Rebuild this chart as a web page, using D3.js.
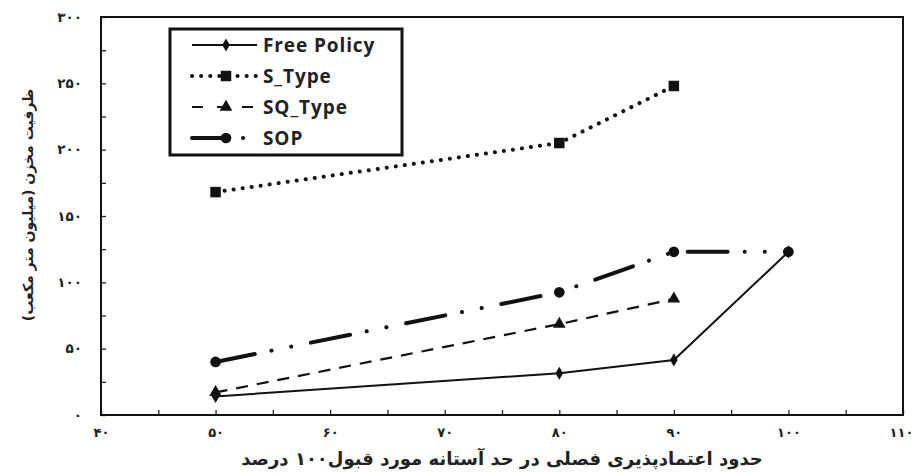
<!DOCTYPE html>
<html>
<head>
<meta charset="utf-8">
<script src="https://cdn.jsdelivr.net/npm/d3@7"></script>
<style>
  body { margin: 0; background: #fff; }
  svg { display: block; }
</style>
</head>
<body>
<svg id="chart"></svg>
<script>
const width = 914;
const height = 473;

// data
const xValues = [50, 80, 90, 100];
const freePolicy = [14, 31.5, 41.5, 123];
const sType = [168, 205, 248];
const sqType = [17, 68.5, 87.5];
const sop = [40, 92.5, 123, 123];

const xTicks = [40, 50, 60, 70, 80, 90, 100, 110];
const yTicks = [0, 50, 100, 150, 200, 250, 300];
const seriesNames = ["Free Policy", "S_Type", "SQ_Type", "SOP"];

const yTitle = "ظرفیت مخزن (میلیون متر مکعب)";
const xTitle = "حدود اعتمادپذیری فصلی در حد آستانه مورد قبول۱۰۰ درصد";

const margin = { top: 17, right: 11, bottom: 58, left: 101 };

const faDigits = "۰۱۲۳۴۵۶۷۸۹";
function toFa(n) {
    return String(n).replace(/\d/g, d => faDigits[+d]);
}

const svg = d3.select("#chart")
    .attr("width", width)
    .attr("height", height);

const x = d3.scaleLinear()
    .domain([40, 110])
    .range([margin.left, width - margin.right]);

const y = d3.scaleLinear()
    .domain([0, 300])
    .range([height - margin.bottom, margin.top]);

const tickFont = "DejaVu Sans";

// minor ticks (every 5 / 25) with no labels
svg.append("g")
    .attr("transform", `translate(0,${y(0)})`)
    .call(d3.axisBottom(x).tickValues(d3.range(40, 111, 5)).tickSize(-5).tickFormat(""))
    .call(g => g.select(".domain").remove())
    .call(g => g.selectAll("line").attr("stroke", "#222").attr("stroke-width", 1.3));

svg.append("g")
    .attr("transform", `translate(${x(40)},0)`)
    .call(d3.axisLeft(y).tickValues(d3.range(0, 301, 25)).tickSize(-5).tickFormat(""))
    .call(g => g.select(".domain").remove())
    .call(g => g.selectAll("line").attr("stroke", "#222").attr("stroke-width", 1.3));

// labelled axes
svg.append("g")
    .attr("transform", `translate(0,${y(0)})`)
    .call(d3.axisBottom(x).tickValues(xTicks).tickSize(0).tickPadding(13).tickFormat(toFa))
    .call(g => g.select(".domain").remove())
    .call(g => g.selectAll("text")
        .attr("font-family", tickFont)
        .attr("font-weight", "bold")
        .attr("font-size", 13)
        .attr("fill", "#222"))
    .call(g => g.selectAll(".tick:last-of-type text").attr("dx", -2));

svg.append("g")
    .attr("transform", `translate(${x(40)},0)`)
    .call(d3.axisLeft(y).tickValues(yTicks).tickSize(0).tickPadding(19).tickFormat(toFa))
    .call(g => g.select(".domain").remove())
    .call(g => g.selectAll("text")
        .attr("font-family", tickFont)
        .attr("font-weight", "bold")
        .attr("font-size", 13.5)
        .attr("fill", "#222"));

// plot frame
svg.append("rect")
    .attr("x", x(40))
    .attr("y", y(300))
    .attr("width", x(110) - x(40))
    .attr("height", y(0) - y(300))
    .attr("fill", "none")
    .attr("stroke", "#111")
    .attr("stroke-width", 2);

const styles = [
    { name: seriesNames[0], values: freePolicy, width: 2, dash: null, cap: "butt", symbol: d3.symbolDiamond, size: 50 },
    { name: seriesNames[1], values: sType, width: 4, dash: "0.1 9", cap: "round", symbol: d3.symbolSquare, size: 110 },
    { name: seriesNames[2], values: sqType, width: 2.2, dash: "12 9", cap: "butt", symbol: d3.symbolTriangle, size: 70 },
    { name: seriesNames[3], values: sop, width: 4, dash: "40 17 0.1 20 0.1 20", cap: "round", symbol: d3.symbolCircle, size: 90 }
];

const line = d3.line()
    .x((d, i) => x(xValues[i]))
    .y(d => y(d));

styles.forEach(s => {
    svg.append("path")
        .datum(s.values)
        .attr("d", line)
        .attr("fill", "none")
        .attr("stroke", "#111")
        .attr("stroke-width", s.width)
        .attr("stroke-linecap", s.cap)
        .attr("stroke-dasharray", s.dash);

    svg.selectAll(null)
        .data(s.values)
        .enter().append("path")
        .attr("transform", (d, i) => `translate(${x(xValues[i])},${y(d)})`)
        .attr("d", d3.symbol().type(s.symbol).size(s.size))
        .attr("fill", "#111");
});

// legend
const legend = svg.append("g");
legend.append("rect")
    .attr("x", 170)
    .attr("y", 29)
    .attr("width", 232)
    .attr("height", 126)
    .attr("fill", "#fff")
    .attr("stroke", "#111")
    .attr("stroke-width", 3);

const legendY = [45, 76, 107, 138];
styles.forEach((s, i) => {
    const g = legend.append("g").attr("transform", `translate(0,${legendY[i]})`);
    g.append("line")
        .attr("x1", 192).attr("x2", 257)
        .attr("stroke", "#111")
        .attr("stroke-width", s.width)
        .attr("stroke-linecap", s.cap)
        .attr("stroke-dasharray", i === 3 ? "33 18 0.1 20" : (i === 2 ? "11 14" : s.dash));
    g.append("path")
        .attr("transform", "translate(226,0)")
        .attr("d", d3.symbol().type(s.symbol).size(s.size))
        .attr("fill", "#111");
    g.append("text")
        .attr("x", 263)
        .attr("dy", "0.36em")
        .attr("font-family", "Open Sans")
        .attr("font-weight", "bold")
        .attr("font-size", 19)
        .attr("letter-spacing", 0.9)
        .attr("fill", "#222")
        .text(s.name);
});

// axis titles
svg.append("text")
    .attr("transform", "translate(28,205) rotate(-90)")
    .attr("text-anchor", "middle")
    .attr("dy", "0.35em")
    .attr("font-family", tickFont)
    .attr("font-weight", "bold")
    .attr("font-size", 14)
    .attr("fill", "#222")
    .attr("direction", "rtl")
    .text(yTitle);

svg.append("text")
    .attr("x", 502)
    .attr("y", 459)
    .attr("text-anchor", "middle")
    .attr("dy", "0.35em")
    .attr("font-family", tickFont)
    .attr("font-weight", "bold")
    .attr("font-size", 18)
    .attr("fill", "#222")
    .attr("direction", "rtl")
    .text(xTitle);
</script>
</body>
</html>
